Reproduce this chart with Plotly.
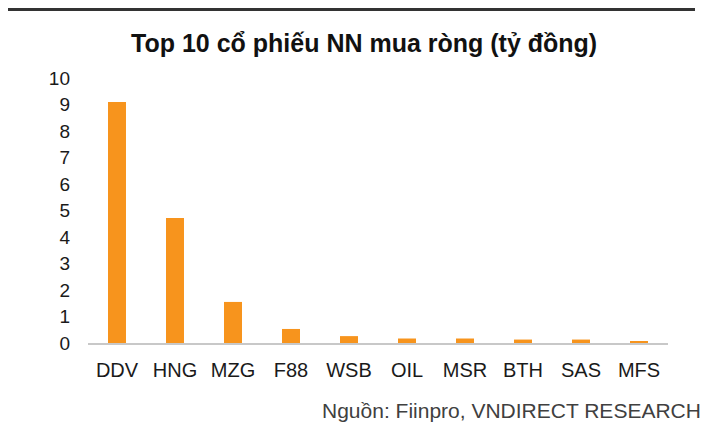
import plotly.graph_objects as go

categories = ["DDV", "HNG", "MZG", "F88", "WSB", "OIL", "MSR", "BTH", "SAS", "MFS"]
values = [9.09, 4.72, 1.55, 0.53, 0.26, 0.17, 0.17, 0.13, 0.13, 0.06]
y_ticks = list(range(0, 11))

# page body has an 8px margin; figure is sized so the plot lands where the reference has it
OFF = 8
W, H = 708 - OFF, 423 - OFF
L, R, T, B = 88 - OFF, 40, 78 - OFF, 80
PW, PH = W - L - R, H - T - B

def px_x(x):
    return (x - OFF - L) / PW

def px_y(y):
    return 1 - (y - OFF - T) / PH

fig = go.Figure(go.Bar(
    x=categories, y=values,
    marker=dict(color="#F7941D", line=dict(width=0)),
))

fig.update_layout(
    width=W, height=H,
    margin=dict(l=L, r=R, t=T, b=B),
    paper_bgcolor="white", plot_bgcolor="white",
    bargap=0.69,
    showlegend=False,
    font=dict(family="Liberation Sans, Arial, sans-serif", size=19, color="#1a1a1a"),
    xaxis=dict(showgrid=False, showline=True, linecolor="#C8C8C8", linewidth=2,
               ticks="", ticklabelstandoff=8, tickfont=dict(size=20, color="#1a1a1a")),
    yaxis=dict(range=[0, 10], tickvals=y_ticks, showgrid=False, zeroline=False,
               showline=False, ticks="", ticklabelstandoff=17,
               tickfont=dict(size=19, color="#1a1a1a")),
    shapes=[dict(type="line", xref="paper", yref="paper",
                 x0=px_x(5), x1=px_x(695),
                 y0=px_y(9.5), y1=px_y(9.5),
                 line=dict(color="#333333", width=3))],
    annotations=[
        dict(text="<b>Top 10 cổ phiếu NN mua ròng (tỷ đồng)</b>", xref="paper", yref="paper",
             x=px_x(364), y=px_y(43), xanchor="center", yanchor="middle",
             showarrow=False, font=dict(size=25, color="#111111")),
        dict(text="Nguồn: Fiinpro, VNDIRECT RESEARCH", xref="paper", yref="paper",
             x=px_x(703), y=px_y(410), xanchor="right", yanchor="middle",
             showarrow=False, font=dict(size=21, color="#404040")),
    ],
)

fig.write_html("out.html")
